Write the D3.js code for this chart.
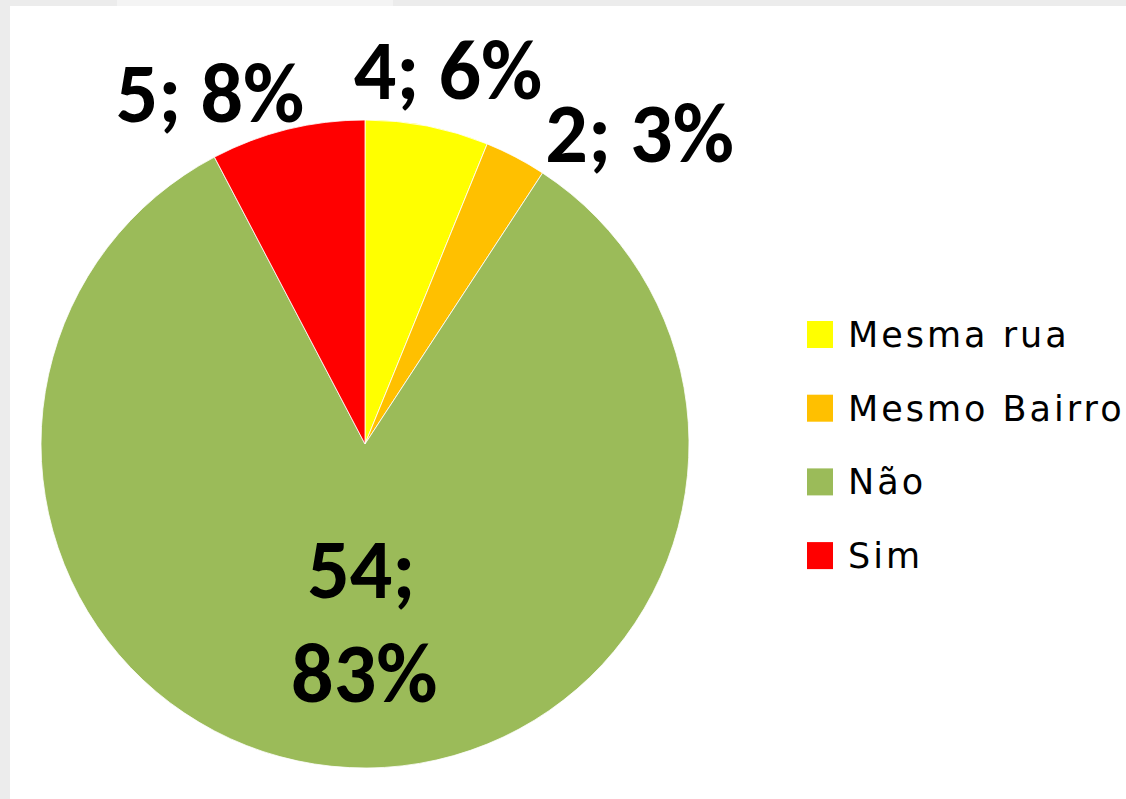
<!DOCTYPE html>
<html>
<head>
<meta charset="utf-8">
<script src="https://cdn.jsdelivr.net/npm/d3@7"></script>
<style>
  html, body { margin: 0; padding: 0; background: #ececec; }
  svg { display: block; }
</style>
</head>
<body>
<div id="chart"></div>
<script>
// categories and values
const categories = ['Mesma rua', 'Mesmo Bairro', 'Não', 'Sim'];
const counts = [4, 2, 54, 5];
const percents = ['6%', '3%', '83%', '8%'];
const colors = ['#FFFF00', '#FFC000', '#9BBB59', '#FF0000'];

const W = 1126, H = 799;
const cx = 365, cy = 444, radius = 324;

const svg = d3.select('#chart').append('svg')
  .attr('width', W)
  .attr('height', H);

// white panel over gray frame
svg.append('rect').attr('x', 0).attr('y', 0).attr('width', W).attr('height', H).attr('fill', '#ececec');
svg.append('rect').attr('x', 117).attr('y', 0).attr('width', 276).attr('height', 6).attr('fill', '#f4f4f4');
svg.append('rect').attr('x', 10).attr('y', 6).attr('width', W - 10).attr('height', H - 6).attr('fill', '#ffffff');

const data = categories.map((c, i) => ({ name: c, value: counts[i], pct: percents[i], color: colors[i] }));

const pie = d3.pie().value(d => d.value).sort(null);
const arc = d3.arc().innerRadius(0).outerRadius(radius);
const labelArc = d3.arc().innerRadius(380).outerRadius(380);
const innerArc = d3.arc().innerRadius(180).outerRadius(180);

const arcs = pie(data);

const g = svg.append('g').attr('transform', `translate(${cx},${cy})`);

g.selectAll('path.slice')
  .data(arcs)
  .enter()
  .append('path')
  .attr('class', 'slice')
  .attr('d', arc)
  .attr('fill', d => d.data.color)
  .attr('stroke', '#ffffff')
  .attr('stroke-width', 0.8);

const labelFont = "Carlito, 'DejaVu Sans Condensed', 'DejaVu Sans', sans-serif";
// nudges for Excel best-fit placement
const nudge = { 'Mesma rua': [10, 1], 'Mesmo Bairro': [98, 27], 'Sim': [-64, 20] };

arcs.forEach(a => {
  const d = a.data;
  if (d.name === 'Não') {
    const [x, y] = innerArc.centroid(a);
    const t = g.append('text')
      .attr('text-anchor', 'middle')
      .attr('font-family', labelFont)
      .attr('font-weight', 'bold')
      .attr('font-size', '84px')
      .attr('fill', '#000');
    t.append('tspan').attr('x', x + 5).attr('y', 598 - cy).text(`${d.value};`);
    t.append('tspan').attr('x', x + 8).attr('y', 702 - cy).text(d.pct);
  } else {
    const [x, y] = labelArc.centroid(a);
    const [nx, ny] = nudge[d.name];
    g.append('text')
      .attr('x', x + nx)
      .attr('y', y + ny + 27)
      .attr('text-anchor', 'middle')
      .attr('font-family', labelFont)
      .attr('font-weight', 'bold')
      .attr('font-size', '84px')
      .attr('fill', '#000')
      .text(`${d.value}; ${d.pct}`);
  }
});

// legend
const legend = svg.append('g').attr('transform', 'translate(807,321)');
const rowH = 73.7;
const items = legend.selectAll('g.item')
  .data(data)
  .enter()
  .append('g')
  .attr('class', 'item')
  .attr('transform', (d, i) => `translate(0,${i * rowH})`);

items.append('rect')
  .attr('width', 26)
  .attr('height', 27)
  .attr('fill', d => d.color);

items.append('text')
  .attr('x', 41)
  .attr('y', 26)
  .attr('font-family', "'DejaVu Sans', sans-serif")
  .attr('font-size', '35px')
  .attr('letter-spacing', '3px')
  .attr('fill', '#000')
  .text(d => d.name);
</script>
</body>
</html>
